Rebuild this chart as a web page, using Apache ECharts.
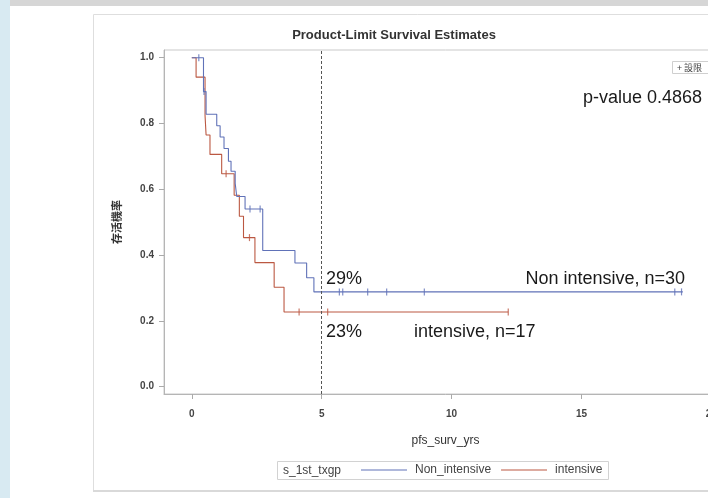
<!DOCTYPE html>
<html><head><meta charset="utf-8">
<script src="https://cdn.jsdelivr.net/npm/echarts@6/dist/echarts.min.js"></script>
<style>
html,body{margin:0;padding:0;overflow:hidden;background:#fff;width:708px;height:498px}
#c{width:740px;height:498px;}
</style></head>
<body><div id="c"></div>
<script>
// ---- data ----
const xTicks = [0, 5, 10, 15, 20];
const yTicks = [0, 0.2, 0.4, 0.6, 0.8, 1.0];

// Non intensive (n=30): step start times and survival after each step
const nonTime = [0, 0.45, 0.55, 0.96, 1.09, 1.24, 1.41, 1.51, 1.67, 1.73, 2.05, 2.73, 3.97, 4.42, 4.70];
const nonSurv = [1.0, 0.897, 0.828, 0.793, 0.759, 0.724, 0.685, 0.655, 0.618, 0.578, 0.540, 0.414, 0.376, 0.331, 0.288];
const nonLastTime = 18.9;
const nonCensor = [0.27, 0.47, 2.24, 2.63, 5.68, 5.81, 6.77, 7.5, 8.95, 18.59, 18.85];

// intensive (n=17)
const intTime = [0, 0.165, 0.51, 0.55, 0.70, 1.15, 1.63, 1.83, 1.99, 2.43, 3.17, 3.55];
const intSurv = [1.0, 0.941, 0.824, 0.765, 0.706, 0.647, 0.582, 0.518, 0.453, 0.377, 0.302, 0.227];
const intLastTime = 12.18;
const intCensor = [1.32, 2.22, 4.13, 5.23, 12.18];

const refLine = 5;
const seriesNames = ['Non_intensive', 'intensive'];
const groupVar = 's_1st_txgp';

// ---- build ----
const BLUE = '#6072b8', RED = '#bb5842';
function stepData(times, survs, last) {
  const d = times.map((t, i) => [t, survs[i]]);
  d.push([last, survs[survs.length - 1]]);
  return d;
}
function survAt(times, survs, t) {
  let s = survs[0];
  for (let i = 0; i < times.length; i++) if (times[i] <= t) s = survs[i];
  return s;
}
const nonCens = nonCensor.map(t => [t, survAt(nonTime, nonSurv, t)]);
const intCens = intCensor.map(t => [t, survAt(intTime, intSurv, t)]);

const FONT = '"Liberation Sans", Arial, sans-serif';
const chart = echarts.init(document.getElementById('c'), null, {renderer: 'canvas'});
chart.setOption({
  animation: false,
  backgroundColor: '#fff',
  grid: {left: 164, top: 50, width: 563, height: 344, show: true, borderColor: '#c9c9c9', borderWidth: 1, containLabel: false},
  xAxis: {
    type: 'value', min: -1.07, max: 20.6,
    name: 'pfs_surv_yrs', nameLocation: 'middle', nameGap: 41,
    nameTextStyle: {fontFamily: FONT, fontSize: 12, color: '#333'},
    axisLine: {show: true, onZero: false, lineStyle: {color: '#b5b5b5'}},
    axisTick: {show: true, inside: false, length: 5, customValues: xTicks, lineStyle: {color: '#aaa'}},
    axisLabel: {customValues: xTicks, margin: 15, fontFamily: FONT, fontSize: 10, fontWeight: 'bold', color: '#444'},
    splitLine: {show: false}
  },
  yAxis: {
    type: 'value', min: -0.0225, max: 1.0235,
    name: '存活機率', nameLocation: 'middle', nameRotate: 90, nameGap: 42,
    nameTextStyle: {fontFamily: '"Noto Sans CJK TC", sans-serif', fontSize: 11, fontWeight: 'bold', color: '#333'},
    axisLine: {show: true, onZero: false, lineStyle: {color: '#b5b5b5'}},
    axisTick: {show: true, inside: false, length: 5, customValues: yTicks, lineStyle: {color: '#aaa'}},
    axisLabel: {customValues: yTicks, margin: 10, fontFamily: FONT, fontSize: 10, fontWeight: 'bold', color: '#444',
      formatter: v => v.toFixed(1)},
    splitLine: {show: false}
  },
  legend: {
    data: seriesNames, left: 361, top: 464, padding: 0, itemGap: 10,
    itemWidth: 46, itemHeight: 1, icon: 'rect', selectedMode: false,
    textStyle: {fontFamily: FONT, fontSize: 12, color: '#444', padding: [0, 0, 0, 3]}
  },
  series: [
    {name: seriesNames[0], type: 'line', step: 'end', data: stepData(nonTime, nonSurv, nonLastTime),
     showSymbol: false, color: BLUE, lineStyle: {color: BLUE, width: 1.1}, z: 3,
     markLine: {silent: true, symbol: 'none', label: {show: false},
       lineStyle: {type: [3, 2], color: '#555', width: 1}, data: [{xAxis: refLine}]}},
    {name: seriesNames[1], type: 'line', step: 'end', data: stepData(intTime, intSurv, intLastTime),
     showSymbol: false, color: RED, lineStyle: {color: RED, width: 1.1}, z: 2},
    {name: 'nonCens', type: 'scatter', data: nonCens, symbol: 'rect', symbolSize: [1.2, 7],
     itemStyle: {color: BLUE}, z: 4},
    {name: 'intCens', type: 'scatter', data: intCens, symbol: 'rect', symbolSize: [1.2, 7],
     itemStyle: {color: RED}, z: 4}
  ],
  graphic: [
    {type: 'rect', z: -10, shape: {x: 0, y: 0, width: 10, height: 498}, style: {fill: '#d8eaf2'}},
    {type: 'rect', z: -10, shape: {x: 10, y: 0, width: 730, height: 6}, style: {fill: '#d6d6d6'}},
    {type: 'rect', z: -9, shape: {x: 93.5, y: 14.5, width: 700, height: 476}, style: {fill: 'none', stroke: '#dedede', lineWidth: 1}},
    {type: 'rect', z: -9, shape: {x: 93, y: 490, width: 650, height: 2}, style: {fill: '#d9d9d9'}},
    {type: 'text', x: 394, y: 35, style: {text: 'Product-Limit Survival Estimates', font: 'bold 13px ' + FONT, fill: '#333', align: 'center', verticalAlign: 'middle'}},
    {type: 'rect', shape: {x: 672.5, y: 61.5, width: 60, height: 12}, style: {fill: '#fff', stroke: '#cfcfcf', lineWidth: 1}},
    {type: 'text', x: 677, y: 68, style: {text: '+ 設限', font: '9px "Noto Sans CJK TC", sans-serif', fill: '#444', verticalAlign: 'middle'}},
    {type: 'text', x: 583, y: 98, style: {text: 'p-value 0.4868', font: '18px ' + FONT, fill: '#1a1a1a', verticalAlign: 'middle'}},
    {type: 'text', x: 326, y: 279, style: {text: '29%', font: '18px ' + FONT, fill: '#1a1a1a', verticalAlign: 'middle'}},
    {type: 'text', x: 685, y: 279, style: {text: 'Non intensive, n=30', font: '18px ' + FONT, fill: '#1a1a1a', align: 'right', verticalAlign: 'middle'}},
    {type: 'text', x: 326, y: 332, style: {text: '23%', font: '18px ' + FONT, fill: '#1a1a1a', verticalAlign: 'middle'}},
    {type: 'text', x: 414, y: 332, style: {text: 'intensive, n=17', font: '18px ' + FONT, fill: '#1a1a1a', verticalAlign: 'middle'}},
    {type: 'rect', shape: {x: 277.5, y: 461.5, width: 331, height: 18}, style: {fill: 'none', stroke: '#d2d2d2', lineWidth: 1}},
    {type: 'text', x: 283, y: 470.5, style: {text: groupVar, font: '12px ' + FONT, fill: '#444', verticalAlign: 'middle'}}
  ]
});
</script>
</body></html>
